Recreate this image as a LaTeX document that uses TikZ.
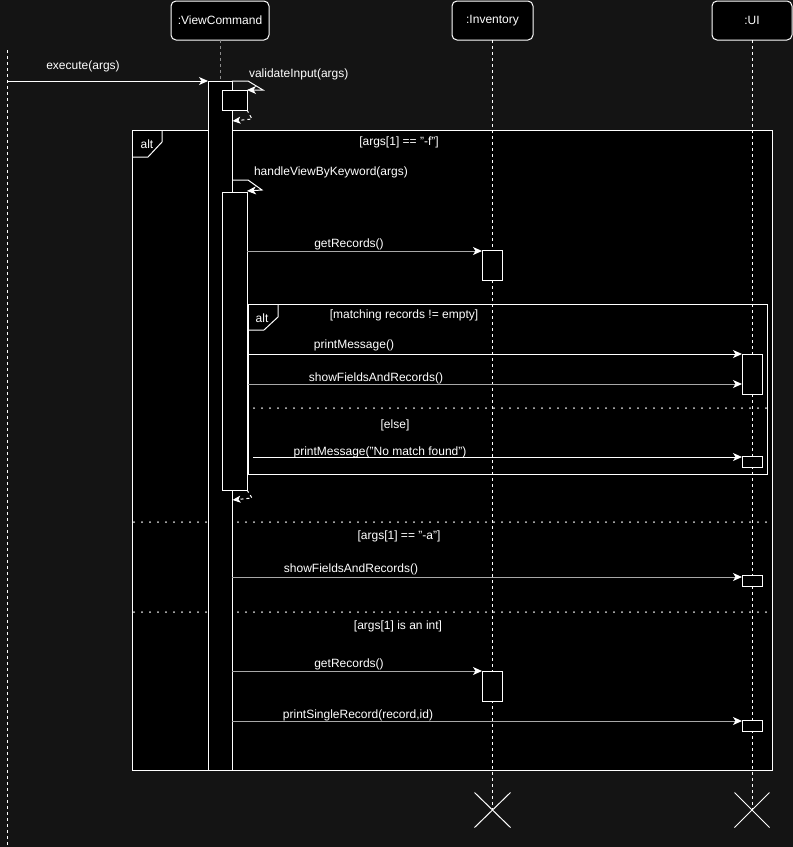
\documentclass[tikz,border=0pt]{standalone}
\usepackage{fontspec}
\setmainfont{Liberation Sans}
\usetikzlibrary{arrows.meta,calc}
\definecolor{bg}{HTML}{141414}
\definecolor{gl}{HTML}{A8A8A8}
\definecolor{lifegray}{HTML}{8C8C8C}
\begin{document}
\begin{tikzpicture}[x=1pt,y=-1pt,
  every node/.style={font=\fontsize{12}{14}\selectfont, text=white, inner sep=0pt, outer sep=0pt},
  lbl/.style={yshift=-1pt},
  head/.style={draw=white, fill=black, rounded corners=5pt, line width=1pt},
  actbox/.style={draw=white, fill=black, line width=1pt, anchor=north west},
  framebox/.style={draw=white, line width=1pt, anchor=north west},
  life/.style={draw=white, dash pattern=on 3pt off 3pt, line width=1pt},
  tip/.style={-{Stealth[length=9pt,width=8pt,inset=2.5pt]}},
  msg/.style={draw=white, line width=1pt, tip},
  gmsg/.style={draw=gl, line width=1pt, -{Stealth[length=9pt,width=8pt,inset=2.5pt,color=white]}},
  ret/.style={draw=white, line width=1pt, dash pattern=on 3pt off 3pt, -{Stealth[length=8pt,width=7pt,inset=2pt]}},
  sep/.style={draw=white!85!black, line width=2pt, line cap=round, dash pattern=on 0pt off 8pt},
  kill/.style={draw=white, line width=1pt}
]
\fill[bg] (0,0) rectangle (793,847);
\useasboundingbox (0,0) rectangle (793,847);

% outer alt frame
\node[framebox, fill=black, minimum width=640pt, minimum height=640pt] (altA) at (132,130) {};
\draw[white, line width=1pt] (162,130) -- (162,142) -- (148,157) -- (132,157);
\node[lbl] (altAlbl) at (147,143) {alt};
\node[lbl] (gA) at (399,141) {[args[1] == "-f"]};

% separators of outer frame
\coordinate (s1a) at (134,522); \coordinate (s1b) at (772,522);
\coordinate (s2a) at (134,612); \coordinate (s2b) at (772,612);
\draw[sep] (s1a) -- (s1b);
\draw[sep] (s2a) -- (s2b);
\node[lbl] (gB) at (399,535) {[args[1] == "-a"]};
\node[lbl] (gC) at (398,625) {[args[1] is an int]};

% heads
\node[head, minimum width=98pt, minimum height=39pt] (vc) at (220,20.5) {:ViewCommand};
\node[head, minimum width=81pt, minimum height=39pt] (inv) at (492.5,20.5) {:Inventory};
\node[head, minimum width=80pt, minimum height=39pt] (ui) at (752,20.5) {:UI};

% lifelines
\coordinate (callerTop) at (7,50); \coordinate (callerBot) at (7,847);
\draw[life] (callerTop) -- (callerBot);
\coordinate (vcTop) at (220,81);
\draw[life, draw=lifegray] (vc.south) -- (vcTop);
\coordinate (xinv) at (492.5,810);
\coordinate (xui) at (752,810);
\draw[life] (inv.south) -- (xinv);
\draw[life] (ui.south) -- (xui);

% inner alt frame
\node[framebox, minimum width=519pt, minimum height=170pt] (altB) at (248,304) {};
\draw[white, line width=1pt] (278,304) -- (278,317) -- (264,330) -- (248,330);
\node[lbl] (altBlbl) at (262,317) {alt};
\node[lbl] (gD) at (404,314) {[matching records != empty]};
\coordinate (s3a) at (254,408); \coordinate (s3b) at (767,408);
\draw[sep] (s3a) -- (s3b);
\node[lbl] (gE) at (395,424) {[else]};

% activations
\node[actbox, minimum width=24pt, minimum height=689pt] (vcact) at (208,81) {};
\node[actbox, minimum width=25pt, minimum height=20pt] (self1) at (222,90) {};
\node[actbox, minimum width=25pt, minimum height=298pt] (self2) at (222,192) {};
\node[actbox, minimum width=20pt, minimum height=30pt] (inv1) at (482,250) {};
\node[actbox, minimum width=20pt, minimum height=30pt] (inv2) at (482,671) {};
\node[actbox, minimum width=20pt, minimum height=40pt] (ui1) at (742,354) {};
\node[actbox, minimum width=20pt, minimum height=11pt] (ui2) at (742,456) {};
\node[actbox, minimum width=20pt, minimum height=11pt] (ui3) at (742,575) {};
\node[actbox, minimum width=20pt, minimum height=11pt] (ui4) at (742,720) {};

% execute
\coordinate (exS) at (7,81);
\draw[msg] (exS) -- (vcact.north west);
\node[lbl] (exL) at (83,65) {execute(args)};

% validateInput self call
\draw[msg] (vcact.north east) -- (248,81) -- (263,90) -- (self1.north east);
\node[lbl, anchor=west] (vaL) at (249,73) {validateInput(args)};
\coordinate (r1e) at (232.5,121);
\draw[ret] (self1.south east) -- (252,119) -- (r1e);

% handleViewByKeyword
\coordinate (hvS) at (232,180);
\coordinate (hvE) at (247,191);
\draw[msg] (hvS) -- (248,180) -- (262,190) -- (hvE);
\node[lbl, anchor=west] (hvL) at (254,171) {handleViewByKeyword(args)};
\coordinate (r2e) at (232.5,500);
\draw[ret] (self2.south east) -- (252,498) -- (r2e);

% getRecords 1
\coordinate (g1s) at (247,251);
\draw[gmsg] (g1s) -- (inv1.north west |- g1s);
\node[lbl] (g1L) at (349,243) {getRecords()};

% printMessage
\coordinate (pm1s) at (248,354);
\draw[msg] (pm1s) -- (ui1.north west);
\node[lbl] (pm1L) at (354,344) {printMessage()};

% showFieldsAndRecords 1
\coordinate (sf1s) at (248,384);
\coordinate (sf1e) at (742,384);
\draw[gmsg] (sf1s) -- (sf1e);
\node[lbl] (sf1L) at (376,377) {showFieldsAndRecords()};

% printMessage no match
\coordinate (pm2s) at (253,457);
\coordinate (pm2e) at (742,457);
\draw[msg] (pm2s) -- (pm2e);
\node[lbl] (pm2L) at (380,451) {printMessage("No match found")};

% showFieldsAndRecords 2
\coordinate (sf2s) at (232,577);
\coordinate (sf2e) at (742,577);
\draw[gmsg] (sf2s) -- (sf2e);
\node[lbl] (sf2L) at (351,568) {showFieldsAndRecords()};

% getRecords 2
\coordinate (g2s) at (232,671);
\draw[gmsg] (g2s) -- (inv2.north west);
\node[lbl] (g2L) at (349,663) {getRecords()};

% printSingleRecord
\coordinate (psS) at (232,721);
\coordinate (psE) at (742,721);
\draw[gmsg] (psS) -- (psE);
\node[lbl] (psL) at (358,714) {printSingleRecord(record,id)};

% destruction marks
\draw[kill] ($(xinv)+(-18,-17.5)$) -- ($(xinv)+(18,17.5)$);
\draw[kill] ($(xinv)+(-18,17.5)$) -- ($(xinv)+(18,-17.5)$);
\draw[kill] ($(xui)+(-17.5,-17.5)$) -- ($(xui)+(17.5,17.5)$);
\draw[kill] ($(xui)+(-17.5,17.5)$) -- ($(xui)+(17.5,-17.5)$);
\end{tikzpicture}
\end{document}
